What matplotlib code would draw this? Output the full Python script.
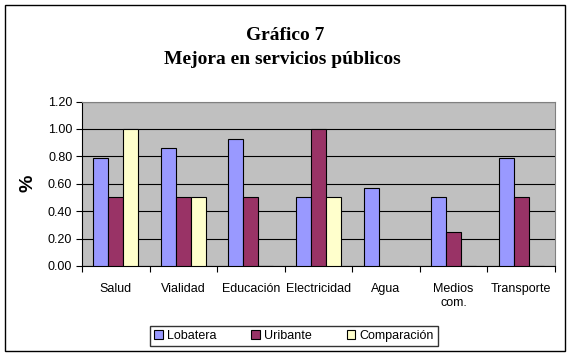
import numpy as np
import matplotlib.pyplot as plt
from matplotlib.patches import Rectangle

plt.rcParams['font.family'] = ['Liberation Sans', 'DejaVu Sans']

categorias = ['Salud', 'Vialidad', 'Educación', 'Electricidad', 'Agua', 'Medios\ncom.', 'Transporte']
lobatera = [0.79, 0.86, 0.93, 0.50, 0.57, 0.50, 0.79]
uribante = [0.50, 0.50, 0.50, 1.00, 0.00, 0.25, 0.50]
comparacion = [1.00, 0.50, 0.00, 0.50, 0.00, 0.00, 0.00]
series = ['Lobatera', 'Uribante', 'Comparación']
colores = ['#9999FF', '#993366', '#FFFFCC']

fig = plt.figure(figsize=(5.70, 3.58), dpi=100)
ax = fig.add_axes([82 / 570, 1 - 266 / 358, 473 / 570, 164.5 / 358])

# outer chart frame
fig.patches.append(Rectangle((5 / 570, 1 - 351 / 358), 560 / 570, 346 / 358,
                             transform=fig.transFigure, fill=False,
                             edgecolor='black', linewidth=1))

x = np.arange(len(categorias))
w = 0.222
for i, (vals, col, lab) in enumerate(zip([lobatera, uribante, comparacion], colores, series)):
    ax.bar(x + (i - 1) * w, vals, w, color=col, edgecolor='black', linewidth=0.8,
           label=lab, zorder=3)

ax.set_facecolor('#C0C0C0')
ax.set_xlim(-0.5, len(categorias) - 0.5)
ax.set_ylim(0, 1.2)
ax.set_yticks(np.arange(0, 1.21, 0.2))
ax.set_yticklabels([f'{v:.2f}' for v in np.arange(0, 1.21, 0.2)], fontsize=9)
ax.yaxis.grid(True, color='black', linewidth=0.8, zorder=0)
ax.set_axisbelow(True)

# ticks at category boundaries, labels in between
ax.set_xticks(np.arange(-0.5, len(categorias), 1.0))
ax.set_xticklabels([])
ax.set_xticks(x, minor=True)
ax.set_xticklabels(categorias, minor=True, fontsize=9, linespacing=1.3)
ax.tick_params(axis='x', which='minor', length=0, pad=12)
ax.tick_params(axis='x', which='major', length=4, direction='out')
ax.tick_params(axis='y', length=4, direction='out', pad=3)

for s in ['top', 'right']:
    ax.spines[s].set_color('#808080')
ax.spines['left'].set_color('black')
ax.spines['bottom'].set_color('black')

fig.text(28 / 570, 1 - 183 / 358, '%', rotation=90, ha='center', va='center',
         fontsize=14, fontweight='bold')

fig.text(285 / 570, 1 - 36 / 358, 'Gráfico 7', ha='center', va='center',
         fontsize=14, fontweight='bold', family='Liberation Serif')
fig.text(282 / 570, 1 - 60 / 358, 'Mejora en servicios públicos', ha='center', va='center',
         fontsize=14, fontweight='bold', family='Liberation Serif')

leg = fig.legend(loc='center', bbox_to_anchor=(294 / 570, 1 - 336 / 358), ncol=3,
                 fontsize=9, frameon=True, fancybox=False, handlelength=0.7,
                 handleheight=0.7, handletextpad=0.3, columnspacing=2.8,
                 borderpad=0.35, edgecolor='black')
leg.get_frame().set_linewidth(1)

fig.savefig('out.png', dpi=100)
